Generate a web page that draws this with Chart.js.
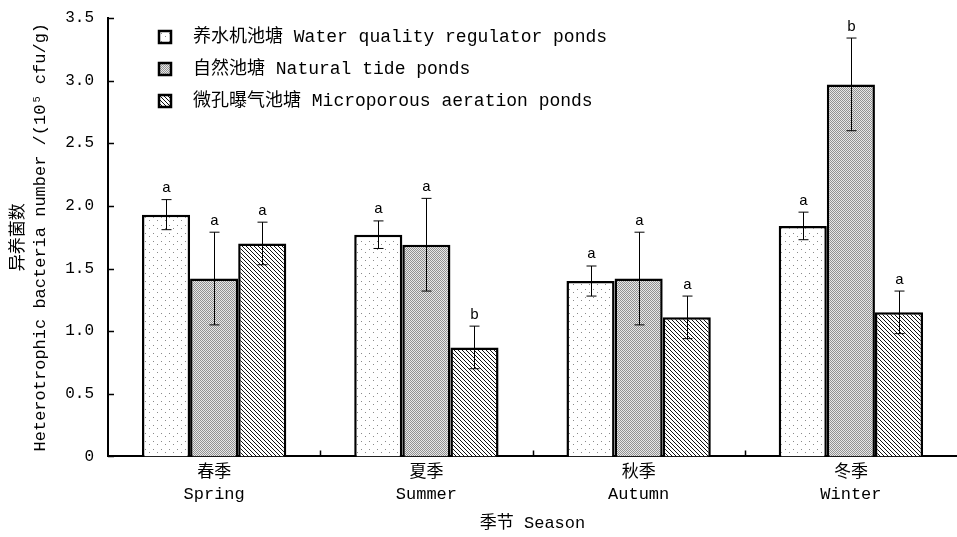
<!DOCTYPE html>
<html>
<head>
<meta charset="utf-8">
<script src="https://cdn.jsdelivr.net/npm/chart.js@4/dist/chart.umd.min.js"></script>
<style>
  body { margin: 0; background: #fff; }
  #wrap { width: 957px; height: 537px; }
</style>
</head>
<body>
<div id="wrap"><canvas id="bacteriaChart" width="957" height="537"></canvas></div>
<script>
// 数据
const seasons = [['春季', 'Spring'], ['夏季', 'Summer'], ['秋季', 'Autumn'], ['冬季', 'Winter']];
const seriesNames = ['养水机池塘 Water quality regulator ponds', '自然池塘 Natural tide ponds', '微孔曝气池塘 Microporous aeration ponds'];
const regulator = [1.93, 1.77, 1.40, 1.84];
const regulatorErr = [0.12, 0.11, 0.12, 0.11];
const natural = [1.42, 1.69, 1.42, 2.97];
const naturalErr = [0.37, 0.37, 0.37, 0.37];
const aeration = [1.70, 0.87, 1.11, 1.15];
const aerationErr = [0.17, 0.17, 0.17, 0.17];
const regulatorSig = ['a', 'a', 'a', 'a'];
const naturalSig = ['a', 'a', 'a', 'b'];
const aerationSig = ['a', 'b', 'a', 'a'];
const yTicks = [0, 0.5, 1.0, 1.5, 2.0, 2.5, 3.0, 3.5];

const FONT = "'Liberation Mono', 'Noto Sans CJK SC', monospace";

// 填充图案
function makePattern(size, draw) {
  const c = document.createElement('canvas');
  c.width = size; c.height = size;
  const g = c.getContext('2d');
  draw(g, size);
  return g.createPattern(c, 'repeat');
}
const dotPattern = makePattern(8, (g) => {
  g.fillStyle = '#fff'; g.fillRect(0, 0, 8, 8);
  g.fillStyle = '#8a8a8a';
  g.fillRect(1, 1, 1, 1);
  g.fillRect(5, 4, 1, 1);
});
const densePattern = makePattern(2, (g) => {
  g.fillStyle = '#e8e8e8'; g.fillRect(0, 0, 2, 2);
  g.fillStyle = '#929292';
  g.fillRect(0, 0, 1, 1);
  g.fillRect(1, 1, 1, 1);
});
const hatchPattern = makePattern(4, (g) => {
  g.fillStyle = '#fff'; g.fillRect(0, 0, 4, 4);
  g.fillStyle = '#111';
  for (let i = 0; i < 4; i++) g.fillRect(i, i, 1, 1);
});
const patterns = [dotPattern, densePattern, hatchPattern];

const errs = [regulatorErr, naturalErr, aerationErr];
const sigs = [regulatorSig, naturalSig, aerationSig];

// 误差线和显著性字母
const errorBarPlugin = {
  id: 'errorBars',
  afterDatasetsDraw(chart) {
    const c = chart.ctx;
    const y = chart.scales.y;
    c.save();
    c.strokeStyle = '#000';
    c.lineWidth = 1;
    c.fillStyle = '#000';
    c.font = "15px " + FONT;
    c.textAlign = 'center';
    c.textBaseline = 'bottom';
    chart.data.datasets.forEach((ds, i) => {
      const meta = chart.getDatasetMeta(i);
      meta.data.forEach((bar, j) => {
        const v = ds.data[j], e = errs[i][j];
        const x = Math.round(bar.x) + 0.5;
        const yt = y.getPixelForValue(v + e);
        const yb = y.getPixelForValue(v - e);
        c.beginPath();
        c.moveTo(x, yt); c.lineTo(x, yb);
        c.moveTo(x - 5, yt); c.lineTo(x + 5, yt);
        c.moveTo(x - 5, yb); c.lineTo(x + 5, yb);
        c.stroke();
        c.fillText(sigs[i][j], x, yt - 4);
      });
    });
    c.restore();
  }
};

// 向内的刻度线
const innerTicksPlugin = {
  id: 'innerTicks',
  afterDraw(chart) {
    const c = chart.ctx;
    const { x, y } = chart.scales;
    const area = chart.chartArea;
    c.save();
    c.strokeStyle = '#000';
    c.lineWidth = 1.5;
    c.beginPath();
    yTicks.forEach(v => {
      const py = Math.round(y.getPixelForValue(v)) + 0.5;
      c.moveTo(area.left, py); c.lineTo(area.left + 6, py);
    });
    for (let i = 0; i < seasons.length - 1; i++) {
      const px = Math.round((x.getPixelForValue(i) + x.getPixelForValue(i + 1)) / 2) + 0.5;
      c.moveTo(px, area.bottom); c.lineTo(px, area.bottom - 6);
    }
    c.stroke();
    c.restore();
  }
};

// 图例
const legendPlugin = {
  id: 'boxLegend',
  afterDraw(chart) {
    const c = chart.ctx;
    const area = chart.chartArea;
    c.save();
    c.font = "18px " + FONT;
    c.textBaseline = 'middle';
    seriesNames.forEach((name, i) => {
      const cy = area.top + 19 + i * 32;
      const bx = area.left + 51;
      c.fillStyle = patterns[i];
      c.fillRect(bx, cy - 6, 12, 12);
      c.strokeStyle = '#000';
      c.lineWidth = 2.5;
      c.strokeRect(bx, cy - 6, 12, 12);
      c.fillStyle = '#000';
      c.fillText(name, bx + 34, cy);
    });
    c.restore();
  }
};

new Chart(document.getElementById('bacteriaChart'), {
  type: 'bar',
  data: {
    labels: seasons,
    datasets: [
      { label: seriesNames[0], data: regulator, backgroundColor: dotPattern },
      { label: seriesNames[1], data: natural, backgroundColor: densePattern },
      { label: seriesNames[2], data: aeration, backgroundColor: hatchPattern }
    ]
  },
  options: {
    responsive: false,
    devicePixelRatio: 1,
    animation: false,
    layout: { padding: { top: 18, right: -6, left: 0, bottom: 3 } },
    datasets: {
      bar: {
        borderColor: '#000',
        borderWidth: 2.5,
        borderSkipped: 'bottom',
        categoryPercentage: 0.68,
        barPercentage: 1.0
      }
    },
    plugins: {
      legend: { display: false },
      tooltip: { enabled: false }
    },
    scales: {
      x: {
        grid: { display: false, drawTicks: false },
        border: { display: true, color: '#000', width: 2 },
        ticks: {
          color: '#000',
          font: { family: FONT, size: 17, lineHeight: 1.3 },
          padding: 5,
          maxRotation: 0
        },
        title: {
          display: true,
          text: '季节 Season',
          color: '#000',
          font: { family: FONT, size: 17 },
          padding: { top: 3, bottom: 0 }
        }
      },
      y: {
        min: 0,
        max: 3.5,
        afterBuildTicks(axis) { axis.ticks = yTicks.map(v => ({ value: v })); },
        afterFit(axis) { axis.paddingTop = 0; axis.paddingBottom = 0; },
        grid: { display: false, drawTicks: false },
        border: { display: true, color: '#000', width: 2 },
        ticks: {
          color: '#000',
          font: { family: FONT, size: 16 },
          padding: 14,
          callback: v => v === 0 ? '0' : v.toFixed(1)
        },
        title: {
          display: true,
          text: ['异养菌数', 'Heterotrophic bacteria number /(10⁵ cfu/g)'],
          color: '#000',
          font: { family: FONT, size: 17, lineHeight: 1.3 },
          padding: { top: 7, bottom: 0 }
        }
      }
    }
  },
  plugins: [errorBarPlugin, innerTicksPlugin, legendPlugin]
});
</script>
</body>
</html>
